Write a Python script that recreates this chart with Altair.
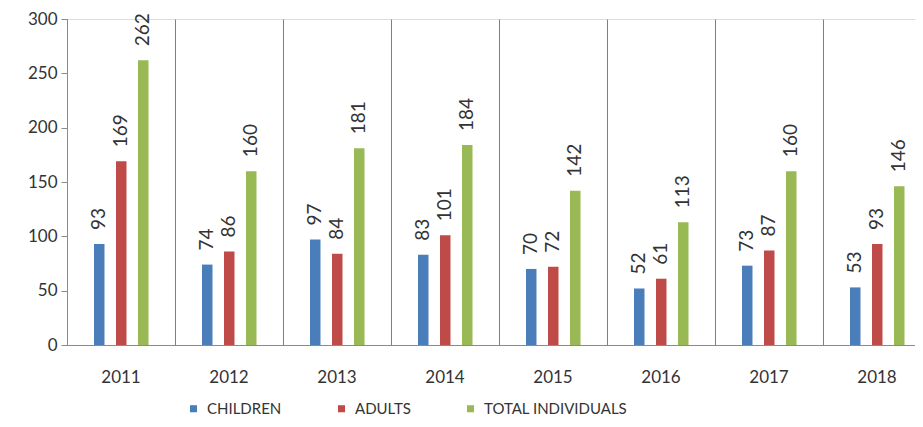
import altair as alt
import pandas as pd

years = ["2011", "2012", "2013", "2014", "2015", "2016", "2017", "2018"]
children = [93, 74, 97, 83, 70, 52, 73, 53]
adults = [169, 86, 84, 101, 72, 61, 87, 93]
total = [262, 160, 181, 184, 142, 113, 160, 146]
series = ["CHILDREN", "ADULTS", "TOTAL INDIVIDUALS"]
colors = ["#4a7ebb", "#be4b48", "#98b954"]

rows = []
for i, y in enumerate(years):
    for s, vals in zip(series, [children, adults, total]):
        rows.append({"year": y, "series": s, "value": vals[i]})
df = pd.DataFrame(rows)

FONT = "Lato"
TXT = "#333333"

x = alt.X("year:N", sort=years, title=None,
          scale=alt.Scale(paddingInner=0, paddingOuter=0, range=[0, 864]),
          axis=alt.Axis(labelAngle=0, ticks=False, grid=True, bandPosition=0,
                        gridColor="#7f7f7f", gridWidth=1, domainColor="#8a8a8a",
                        labelFont=FONT, labelFontSize=17, labelColor=TXT,
                        labelPadding=24))
xoff = alt.XOffset("series:N", sort=series,
                   scale=alt.Scale(range=[27, 81.5], paddingInner=0.523, paddingOuter=0))
y = alt.Y("value:Q", title=None,
          scale=alt.Scale(domain=[0, 300]),
          axis=alt.Axis(values=[0, 50, 100, 150, 200, 250, 300], grid=False,
                        domainColor="#8a8a8a", tickColor="#8a8a8a", tickSize=6,
                        labelFont=FONT, labelFontSize=17, labelColor=TXT,
                        labelPadding=4))

bars = alt.Chart(df).mark_bar().encode(
    x=x, xOffset=xoff, y=y,
    color=alt.Color("series:N", sort=series,
                    scale=alt.Scale(domain=series, range=colors),
                    legend=alt.Legend(title=None, orient="none", direction="horizontal",
                                      legendX=119, legendY=382,
                                      symbolType="square", symbolSize=50,
                                      symbolStrokeWidth=0,
                                      labelFont=FONT, labelFontSize=15,
                                      labelColor=TXT, columnPadding=52,
                                      labelOffset=6)),
)

labels = alt.Chart(df).mark_text(angle=270, align="left", baseline="middle",
                                 dx=14, font=FONT, fontSize=19, color=TXT).encode(
    x=alt.X("year:N", sort=years), xOffset=alt.XOffset("series:N", sort=series),
    y="value:Q", text="value:Q",
)

chart = (bars + labels).properties(
    width=848, height=326,
    autosize=alt.AutoSizeParams(type="none"),
    padding={"left": 59, "top": 11, "right": 0, "bottom": 71},
).configure_view(stroke=None).configure(background="white")

chart.save("out.html", embed_options={"renderer": "svg", "actions": False})
